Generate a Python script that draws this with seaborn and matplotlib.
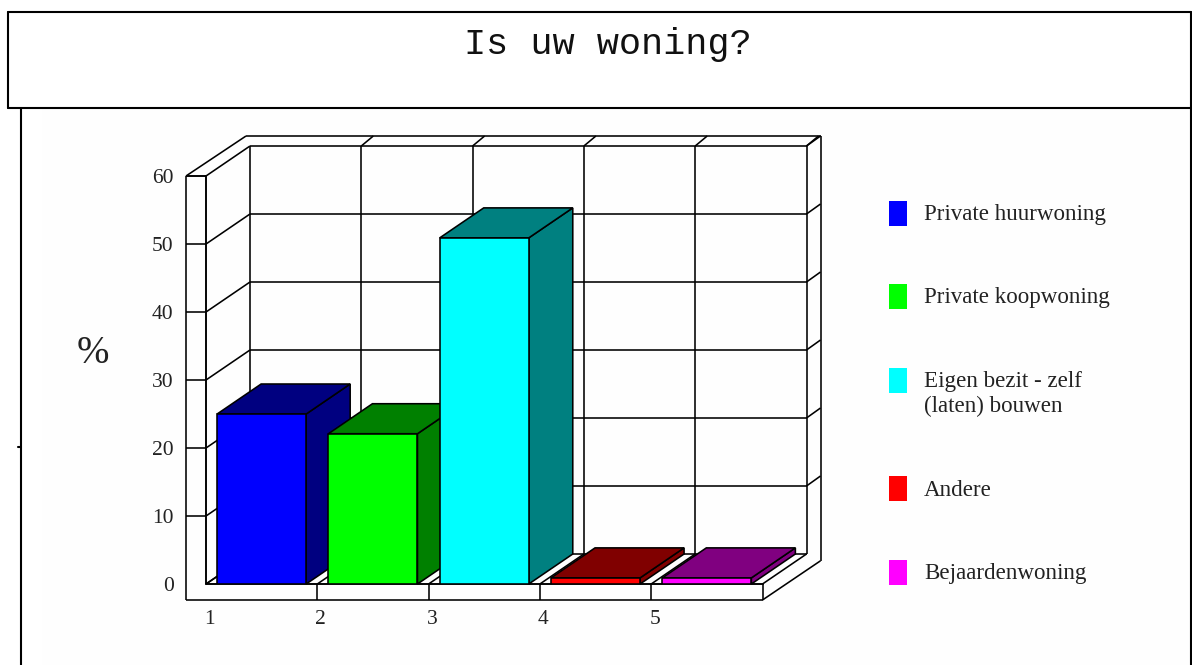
import matplotlib
matplotlib.use("Agg")
import matplotlib.pyplot as plt
from matplotlib.lines import Line2D
from matplotlib.patches import Polygon, Rectangle
from matplotlib.transforms import ScaledTranslation
import pandas as pd
import seaborn as sns

categories = ["1", "2", "3", "4", "5"]
values = [25.0, 22.1, 50.9, 0.9, 0.9]
front_colors = ["#0000ff", "#00ff00", "#00ffff", "#ff0000", "#ff00ff"]
side_colors = ["#000080", "#008000", "#008080", "#800000", "#800080"]
y_ticks = [0, 10, 20, 30, 40, 50, 60]
legend_labels = ["Private huurwoning", "Private koopwoning",
                 "Eigen bezit - zelf\n(laten) bouwen", "Andere", "Bejaardenwoning"]
title = "Is uw woning?"

W, H = 1192, 665
LW = 1.15
SERIF = "Liberation Serif"

sns.set_theme(style="white")
plt.rcParams["font.family"] = [SERIF, "DejaVu Sans"]

fig = plt.figure(figsize=(W / 100, H / 100), dpi=100)


def px(x, y):
    return x / W, 1 - y / H


# outer frame of the page
fig.add_artist(Rectangle(px(42, H), (W - 44) / W, (H - 109) / H, facecolor="#fefefe",
                         edgecolor="none", transform=fig.transFigure, zorder=-1))
for xs, ys in [((8, 1190.5), (12, 12)), ((8, 1190.5), (108, 108)), ((8, 8), (12, 108)),
               ((21, 21), (108, H)), ((1190.5, 1190.5), (12, H)), ((18, 21), (447, 447))]:
    fig.add_artist(Line2D([x / W for x in xs], [1 - y / H for y in ys], color="black",
                          lw=1.5, transform=fig.transFigure))
fig.text(608 / W, 1 - 44 / H, title, family="Liberation Mono", fontsize=26.6,
         ha="center", va="center", color="#111111")

# front plane of the 3d box is the real axes
ax = fig.add_axes([206 / W, 1 - 584 / H, 556.5 / W, 408 / H])
ax.patch.set_alpha(0)

df = pd.DataFrame({"cat": categories, "val": values})
sns.barplot(data=df, x="cat", y="val", hue="cat", order=categories, hue_order=categories,
            palette=dict(zip(categories, front_colors)), width=0.8, legend=False,
            edgecolor="black", linewidth=LW, saturation=1, ax=ax)
ax.set_xlim(-0.5, 4.5)
ax.set_ylim(0, 60)
ax.set_xlabel("")
ax.set_ylabel("")

# depth of the box, in data units
dx = 44 / 111.3
dy = 30 / 6.8
top_out = 60 + dy + 10 / 6.8
right_out = 4.5 + dx + 14 / 111.3
left_out = -0.5 - 20 / 111.3
floor = -16 / 6.8


def line(xs, ys, z=1):
    ax.plot(xs, ys, color="black", lw=LW, clip_on=False, zorder=z, solid_capstyle="butt")


# back wall, left wall, right wall, floor
for v in y_ticks:
    line([-0.5 + dx, 4.5 + dx], [v + dy, v + dy])
    line([-0.5, -0.5 + dx], [v, v + dy])
    if v > 0:
        line([4.5 + dx, right_out], [v + dy, v + dy + 10 / 6.8])
for i in range(6):
    xb = -0.5 + i + dx
    line([xb, xb], [dy, 60 + dy])
    if i > 0:
        line([xb, xb + 12 / 111.3], [60 + dy, top_out])
    line([-0.5 + i, xb], [0, dy])
line([left_out, -0.5 + dx - 4 / 111.3], [60, top_out])
line([-0.5 + dx - 4 / 111.3, right_out], [top_out, top_out])
line([right_out, right_out], [dy - 1, top_out])
line([right_out, 4.5], [dy - 1, floor])
line([4.5, 4.5], [0, floor])
line([left_out, 4.5], [floor, floor])
line([left_out, left_out], [floor, 60])
line([-0.5, -0.5], [0, 60])
line([-0.5, 4.5], [0, 0])
line([left_out, -0.5], [60, 60])

# the bars: seaborn draws the fronts, depth faces are added from the same values
for i, (bar, v) in enumerate(zip(ax.patches, values)):
    x0 = bar.get_x()
    x1 = x0 + bar.get_width()
    bar.set_zorder(4 + i + 0.5)
    side = [(x1, 0), (x1 + dx, dy), (x1 + dx, v + dy), (x1, v)]
    top = [(x0, v), (x0 + dx, v + dy), (x1 + dx, v + dy), (x1, v)]
    for pts in (side, top):
        ax.add_patch(Polygon(pts, closed=True, facecolor=side_colors[i], edgecolor="black",
                             lw=LW, zorder=4 + i, clip_on=False))

sns.despine(ax=ax, top=True, right=True)
for s in ("left", "bottom"):
    ax.spines[s].set_linewidth(LW)
    ax.spines[s].set_color("black")

ax.set_yticks(y_ticks)
ax.set_yticklabels([str(v) for v in y_ticks], fontsize=15.5, color="#222222")
ax.tick_params(axis="y", left=True, length=14.4, width=LW, color="black", pad=9)
ax.yaxis.get_major_ticks()[0].tick1line.set_visible(False)

ax.set_xticks([-0.5 + i for i in range(5)])
ax.set_xticklabels(categories, fontsize=15.5, color="#222222")
ax.tick_params(axis="x", bottom=True, length=11.5, width=LW, color="black", pad=7)
ax.xaxis.get_major_ticks()[0].tick1line.set_visible(False)
shift = ScaledTranslation(3.5 / 100, 0, fig.dpi_scale_trans)
for lab in ax.get_xticklabels():
    lab.set_transform(lab.get_transform() + shift)

fig.text(93 / W, 1 - 353 / H, "%", fontsize=28, family=SERIF, ha="center", va="center",
         color="#222222")

# legend
swatch_y = [201, 284, 368, 476, 560]
text_y = [214, 298, 394, 490, 574]
for c, lab, sy, ty in zip(front_colors, legend_labels, swatch_y, text_y):
    fig.add_artist(Rectangle(px(889, sy + 25), 18 / W, 25 / H, facecolor=c, edgecolor="none",
                             transform=fig.transFigure))
    fig.text(924 / W, 1 - ty / H, lab, fontsize=16.6, family=SERIF, ha="left", va="center",
             color="#222222", linespacing=1.25)

fig.savefig("out.png", dpi=100)
